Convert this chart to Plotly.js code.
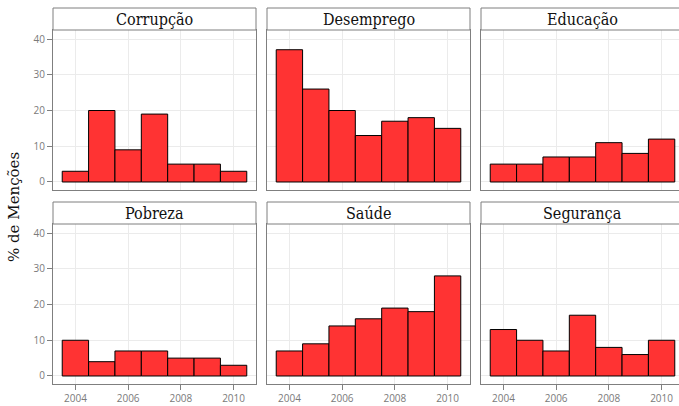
<!DOCTYPE html>
<html>
<head>
<meta charset="utf-8">
<script src="https://cdn.plot.ly/plotly-3.0.1.min.js"></script>
<style>
  html, body { margin: 0; padding: 0; overflow: hidden; background: #fff; }
  #chart { width: 685px; height: 406px; }
</style>
</head>
<body>
<div id="chart"></div>
<script>
// Share of mentions (%) per topic, by year
const years = [2004, 2005, 2006, 2007, 2008, 2009, 2010];
const topics = ['Corrupção', 'Desemprego', 'Educação', 'Pobreza', 'Saúde', 'Segurança'];
const corrupcao  = [3, 20, 9, 19, 5, 5, 3];
const desemprego = [37, 26, 20, 13, 17, 18, 15];
const educacao   = [5, 5, 7, 7, 11, 8, 12];
const pobreza    = [10, 4, 7, 7, 5, 5, 3];
const saude      = [7, 9, 14, 16, 19, 18, 28];
const seguranca  = [13, 10, 7, 17, 8, 6, 10];
const series = [corrupcao, desemprego, educacao, pobreza, saude, seguranca];

const W = 685, H = 406;
// panel boxes in pixels
const colX = [[53, 256], [267, 470], [481, 684]];
const rowY = [[30, 190], [224, 384]];      // plotting area
const stripY = [[8, 30], [202, 224]];     // facet strip

const BORDER = '#7f7f7f';
const GRID = '#ebebeb';
const TICKFONT = {family: 'Open Sans, sans-serif', size: 10, color: '#7a7a7a'};
const STRIPFONT = {family: 'DejaVu Serif Condensed, DejaVu Serif, serif', size: 16, color: '#111'};
const TITLEFONT = {family: 'DejaVu Serif, serif', size: 15, color: '#111'};

const data = [];
const layout = {
  width: W, height: H,
  margin: {l: 0, r: 0, t: 0, b: 0},
  paper_bgcolor: '#fff', plot_bgcolor: '#fff',
  showlegend: false,
  bargap: 0,
  shapes: [], annotations: []
};

series.forEach((vals, i) => {
  const r = Math.floor(i / 3), c = i % 3;
  const n = i + 1;
  const sfx = n === 1 ? '' : String(n);
  data.push({
    type: 'bar', x: years, y: vals, width: 1,
    xaxis: 'x' + sfx, yaxis: 'y' + sfx,
    marker: {color: '#ff3333', line: {color: '#000', width: 1}},
    hoverinfo: 'x+y'
  });
  layout['xaxis' + sfx] = {
    domain: [colX[c][0] / W, colX[c][1] / W],
    anchor: 'y' + sfx,
    range: [2003.15, 2010.85],
    tickvals: [2004, 2006, 2008, 2010],
    showticklabels: r === 1, ticks: r === 1 ? 'outside' : '',
    ticklen: 5, tickcolor: BORDER, tickfont: TICKFONT,
    showgrid: true, gridcolor: GRID, gridwidth: 1,
    showline: true, mirror: true, linecolor: BORDER, linewidth: 1,
    zeroline: false, fixedrange: true
  };
  layout['yaxis' + sfx] = {
    domain: [1 - rowY[r][1] / H, 1 - rowY[r][0] / H],
    anchor: 'x' + sfx,
    range: [-2.24, 42.52],
    tickvals: [0, 10, 20, 30, 40],
    showticklabels: c === 0, ticks: c === 0 ? 'outside' : '',
    ticklen: 5, tickcolor: BORDER, tickfont: TICKFONT,
    showgrid: true, gridcolor: GRID, gridwidth: 1,
    showline: true, mirror: true, linecolor: BORDER, linewidth: 1,
    zeroline: false, fixedrange: true
  };
  // facet strip
  layout.shapes.push({
    type: 'rect', xref: 'paper', yref: 'paper',
    x0: colX[c][0] / W, x1: colX[c][1] / W,
    y0: 1 - stripY[r][1] / H, y1: 1 - stripY[r][0] / H,
    fillcolor: '#fff', line: {color: BORDER, width: 1}
  });
  layout.annotations.push({
    xref: 'paper', yref: 'paper',
    x: (colX[c][0] + colX[c][1]) / 2 / W,
    y: 1 - (stripY[r][0] + stripY[r][1]) / 2 / H,
    xanchor: 'center', yanchor: 'middle', showarrow: false,
    text: topics[i], font: STRIPFONT
  });
});

layout.annotations.push({
  xref: 'paper', yref: 'paper', x: 14 / W, y: 1 - 207 / H,
  xanchor: 'center', yanchor: 'middle', showarrow: false, textangle: -90,
  text: '% de Menções', font: TITLEFONT
});

Plotly.newPlot('chart', data, layout, {displayModeBar: false, staticPlot: true});
</script>
</body>
</html>
